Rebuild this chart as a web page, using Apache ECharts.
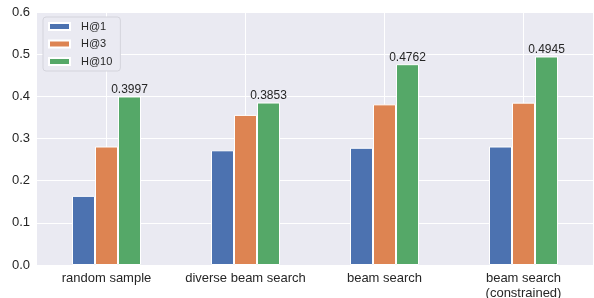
<!DOCTYPE html>
<html>
<head>
<meta charset="utf-8">
<script src="https://cdn.jsdelivr.net/npm/echarts@6/dist/echarts.min.js"></script>
<style>
  html, body { margin: 0; padding: 0; background: #fff; }
  #chart { width: 594px; height: 298px; }
</style>
</head>
<body>
<div id="chart"></div>
<script>
const categories = ['random sample', 'diverse beam search', 'beam search', 'beam search\n(constrained)']
const h1 = [0.164, 0.272, 0.278, 0.281]
const h3 = [0.281, 0.356, 0.381, 0.385]
const h10 = [0.3997, 0.3853, 0.4762, 0.4945]
const yTicks = [0, 0.1, 0.2, 0.3, 0.4, 0.5, 0.6]

const font = '"Liberation Sans", Arial, sans-serif'
const ink = '#262626'

const myChart = echarts.init(document.getElementById('chart'))
myChart.setOption({
  animation: false,
  textStyle: { fontFamily: font, color: ink },
  grid: {
    left: 37, right: 1, top: 12, bottom: 33,
    outerBoundsMode: 'none', containLabel: false,
    show: true, backgroundColor: '#eaeaf2', borderWidth: 0
  },
  legend: {
    left: 43, top: 17,
    orient: 'vertical',
    data: ['H@1', 'H@3', 'H@10'],
    itemWidth: 21, itemHeight: 7, itemGap: 6.5,
    icon: 'rect',
    padding: [4, 8, 4, 5],
    backgroundColor: '#eaeaf2',
    borderColor: '#d4d4dc', borderWidth: 1, borderRadius: 3,
    textStyle: { fontFamily: font, fontSize: 11, color: ink, lineHeight: 10, padding: [0, 0, 0, 6] }
  },
  xAxis: {
    type: 'category',
    data: categories,
    axisLine: { show: false },
    axisTick: { show: false },
    axisLabel: { interval: 0, fontFamily: font, fontSize: 13, color: ink, margin: 6, lineHeight: 15 },
    splitLine: { show: true, interval: 0, alignWithLabel: true, lineStyle: { color: '#fff', width: 1 } }
  },
  yAxis: {
    type: 'value',
    min: 0, max: 0.6, interval: 0.1,
    axisLine: { show: false },
    axisTick: { show: false },
    axisLabel: {
      fontFamily: font, fontSize: 13, color: ink, margin: 7,
      formatter: v => yTicks.includes(Math.round(v * 10) / 10) ? v.toFixed(1) : ''
    },
    splitLine: { lineStyle: { color: '#fff', width: 1 } }
  },
  series: [
    {
      name: 'H@1', type: 'bar', data: h1,
      barWidth: 23, barGap: '0%',
      itemStyle: { color: '#4c72b0', borderColor: '#fff', borderWidth: 1 }
    },
    {
      name: 'H@3', type: 'bar', data: h3,
      barWidth: 23, barGap: '0%',
      itemStyle: { color: '#dd8452', borderColor: '#fff', borderWidth: 1 }
    },
    {
      name: 'H@10', type: 'bar', data: h10,
      barWidth: 23, barGap: '0%',
      itemStyle: { color: '#55a868', borderColor: '#fff', borderWidth: 1 },
      label: {
        show: true, position: 'top', distance: 1,
        fontFamily: font, fontSize: 12, color: ink,
        formatter: p => p.value.toFixed(4)
      }
    }
  ]
})
</script>
</body>
</html>
